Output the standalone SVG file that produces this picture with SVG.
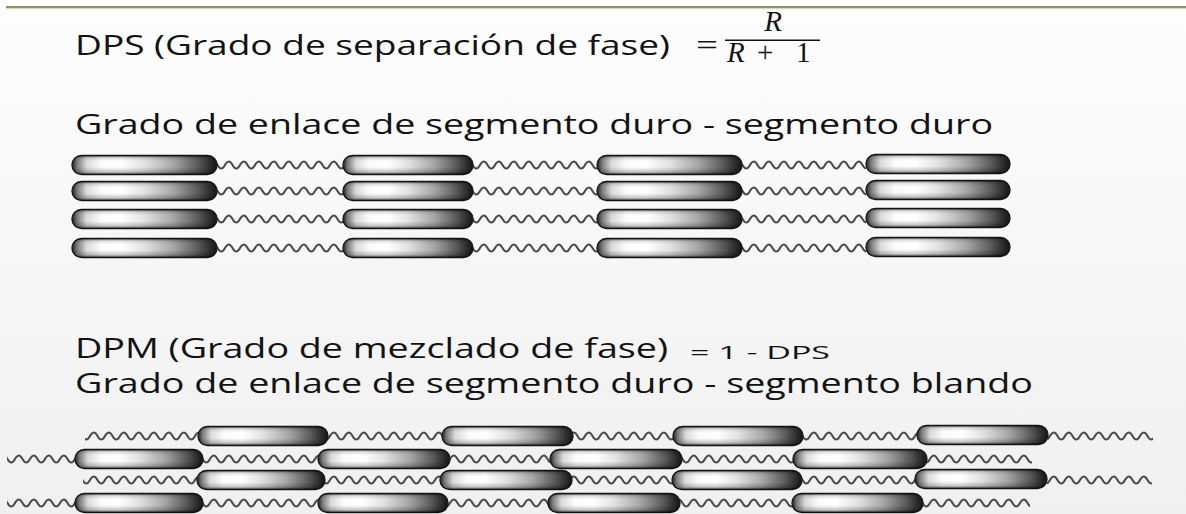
<svg xmlns="http://www.w3.org/2000/svg" width="1186" height="514" viewBox="0 0 1186 514">
  <defs>
    <style>
      .t { font-family: "Open Sans", "DejaVu Sans", sans-serif; font-size: 28px; fill: #121212; }
      .m { font-family: "Liberation Serif", "DejaVu Serif", serif; font-size: 29px; fill: #121212; }
      .i { font-style: italic; }
      .s { font-family: "Open Sans", "Liberation Sans", sans-serif; font-size: 19px; fill: #121212; }
      .body { fill: url(#capH); stroke: #1a1a1a; stroke-width: 1.4; }
      .shade { fill: url(#capV); stroke: none; }
      .chain { fill: url(#wave); stroke: none; }
    </style>
    <linearGradient id="bg" x1="0" y1="0" x2="0" y2="1">
      <stop offset="0" stop-color="#fdfdfd"/>
      <stop offset="1" stop-color="#f0f0f0"/>
    </linearGradient>
    <!-- hard segment: bright highlight left of centre, darkening to the right -->
    <linearGradient id="capH" x1="0" y1="0" x2="1" y2="0">
      <stop offset="0" stop-color="#1e1e1e"/>
      <stop offset="0.035" stop-color="#7a7a7a"/>
      <stop offset="0.1" stop-color="#dadada"/>
      <stop offset="0.2" stop-color="#fbfbfb"/>
      <stop offset="0.34" stop-color="#ffffff"/>
      <stop offset="0.5" stop-color="#e2e2e2"/>
      <stop offset="0.7" stop-color="#a6a6a6"/>
      <stop offset="0.87" stop-color="#5a5a5a"/>
      <stop offset="1" stop-color="#141414"/>
    </linearGradient>
    <!-- cylinder shading across the segment's height -->
    <linearGradient id="capV" x1="0" y1="0" x2="0" y2="1">
      <stop offset="0" stop-color="#000" stop-opacity="0.6"/>
      <stop offset="0.13" stop-color="#000" stop-opacity="0.12"/>
      <stop offset="0.3" stop-color="#000" stop-opacity="0"/>
      <stop offset="0.62" stop-color="#000" stop-opacity="0"/>
      <stop offset="0.86" stop-color="#000" stop-opacity="0.22"/>
      <stop offset="1" stop-color="#000" stop-opacity="0.65"/>
    </linearGradient>
    <!-- soft segment: repeating sine-like chain, tile centred on y=0 -->
    <pattern id="wave" patternUnits="userSpaceOnUse" x="0" y="-7" width="15" height="14">
      <path d="M-7.5 7 Q-3.75 14 0 7 T7.5 7 T15 7 T22.5 7" fill="none" stroke="#4a4a4a" stroke-width="2"/>
    </pattern>
  </defs>

  <rect width="1186" height="514" fill="url(#bg)"/>
  <rect x="6" y="6" width="1180" height="2.2" fill="#989060"/>
  <rect x="6" y="8.2" width="1180" height="1" fill="#d8d4c0"/>

  <!-- headings and formulas -->
  <g id="labels">
    <text class="t" x="75" y="55" textLength="595" lengthAdjust="spacingAndGlyphs">DPS (Grado de separación de fase)</text>
    <text class="m" x="696" y="55" textLength="22" lengthAdjust="spacingAndGlyphs">=</text>
    <text class="m i" x="773" y="31" text-anchor="middle">R</text>
    <rect x="725" y="39.5" width="95" height="1.5" fill="#121212"/>
    <text class="m" y="62"><tspan class="i" x="727">R</tspan><tspan x="757">+</tspan><tspan x="796">1</tspan></text>
    <text class="t" x="75" y="134" textLength="918" lengthAdjust="spacingAndGlyphs">Grado de enlace de segmento duro - segmento duro</text>
    <text class="t" x="75" y="358" textLength="593" lengthAdjust="spacingAndGlyphs">DPM (Grado de mezclado de fase)</text>
    <text class="s" x="690" y="359" textLength="140" lengthAdjust="spacingAndGlyphs">= 1 - DPS</text>
    <text class="t" x="75" y="393" textLength="958" lengthAdjust="spacingAndGlyphs">Grado de enlace de segmento duro - segmento blando</text>
  </g>

  <!-- soft-segment chains (connectors) -->
  <g id="connectors">
    <!-- phase-separated block -->
    <g transform="translate(0,165)">
      <rect class="chain" x="217" y="-7" width="126" height="14"/>
      <rect class="chain" x="473" y="-7" width="124" height="14"/>
      <rect class="chain" x="742" y="-7" width="124" height="14"/>
    </g>
    <g transform="translate(0,191)">
      <rect class="chain" x="217" y="-7" width="126" height="14"/>
      <rect class="chain" x="473" y="-7" width="124" height="14"/>
      <rect class="chain" x="742" y="-7" width="124" height="14"/>
    </g>
    <g transform="translate(0,219)">
      <rect class="chain" x="217" y="-7" width="126" height="14"/>
      <rect class="chain" x="473" y="-7" width="124" height="14"/>
      <rect class="chain" x="742" y="-7" width="124" height="14"/>
    </g>
    <g transform="translate(0,248)">
      <rect class="chain" x="217" y="-7" width="126" height="14"/>
      <rect class="chain" x="473" y="-7" width="124" height="14"/>
      <rect class="chain" x="742" y="-7" width="124" height="14"/>
    </g>
    <!-- phase-mixed block -->
    <g transform="translate(0,436)">
      <rect class="chain" x="85" y="-7" width="113" height="14"/>
      <rect class="chain" x="328" y="-7" width="114" height="14"/>
      <rect class="chain" x="573" y="-7" width="100" height="14"/>
      <rect class="chain" x="803" y="-7" width="114" height="14"/>
      <rect class="chain" x="1048" y="-7" width="105" height="14"/>
    </g>
    <g transform="translate(0,459)">
      <rect class="chain" x="7" y="-7" width="68" height="14"/>
      <rect class="chain" x="203" y="-7" width="115" height="14"/>
      <rect class="chain" x="450" y="-7" width="100" height="14"/>
      <rect class="chain" x="682" y="-7" width="111" height="14"/>
      <rect class="chain" x="927" y="-7" width="105" height="14"/>
    </g>
    <g transform="translate(0,480)">
      <rect class="chain" x="83" y="-7" width="114" height="14"/>
      <rect class="chain" x="325" y="-7" width="115" height="14"/>
      <rect class="chain" x="572" y="-7" width="100" height="14"/>
      <rect class="chain" x="802" y="-7" width="113" height="14"/>
      <rect class="chain" x="1047" y="-7" width="105" height="14"/>
    </g>
    <g transform="translate(0,503)">
      <rect class="chain" x="7" y="-7" width="68" height="14"/>
      <rect class="chain" x="203" y="-7" width="115" height="14"/>
      <rect class="chain" x="448" y="-7" width="100" height="14"/>
      <rect class="chain" x="680" y="-7" width="112" height="14"/>
      <rect class="chain" x="923" y="-7" width="107" height="14"/>
    </g>
  </g>

  <!-- hard segments (nodes) -->
  <g id="hard-segments-separated">
    <g id="hs-1-1"><rect class="body" x="72" y="155.5" width="145" height="19" rx="9.5"/><rect class="shade" x="72" y="155.5" width="145" height="19" rx="9.5"/></g>
    <g id="hs-1-2"><rect class="body" x="343" y="155.5" width="130" height="19" rx="9.5"/><rect class="shade" x="343" y="155.5" width="130" height="19" rx="9.5"/></g>
    <g id="hs-1-3"><rect class="body" x="597" y="155.5" width="145" height="19" rx="9.5"/><rect class="shade" x="597" y="155.5" width="145" height="19" rx="9.5"/></g>
    <g id="hs-1-4"><rect class="body" x="866" y="154.5" width="144" height="19" rx="9.5"/><rect class="shade" x="866" y="154.5" width="144" height="19" rx="9.5"/></g>

    <g id="hs-2-1"><rect class="body" x="72" y="181.5" width="145" height="19" rx="9.5"/><rect class="shade" x="72" y="181.5" width="145" height="19" rx="9.5"/></g>
    <g id="hs-2-2"><rect class="body" x="343" y="181.5" width="130" height="19" rx="9.5"/><rect class="shade" x="343" y="181.5" width="130" height="19" rx="9.5"/></g>
    <g id="hs-2-3"><rect class="body" x="597" y="181.5" width="145" height="19" rx="9.5"/><rect class="shade" x="597" y="181.5" width="145" height="19" rx="9.5"/></g>
    <g id="hs-2-4"><rect class="body" x="866" y="180.5" width="144" height="19" rx="9.5"/><rect class="shade" x="866" y="180.5" width="144" height="19" rx="9.5"/></g>

    <g id="hs-3-1"><rect class="body" x="72" y="209.5" width="145" height="19" rx="9.5"/><rect class="shade" x="72" y="209.5" width="145" height="19" rx="9.5"/></g>
    <g id="hs-3-2"><rect class="body" x="343" y="209.5" width="130" height="19" rx="9.5"/><rect class="shade" x="343" y="209.5" width="130" height="19" rx="9.5"/></g>
    <g id="hs-3-3"><rect class="body" x="597" y="209.5" width="145" height="19" rx="9.5"/><rect class="shade" x="597" y="209.5" width="145" height="19" rx="9.5"/></g>
    <g id="hs-3-4"><rect class="body" x="866" y="208.5" width="144" height="19" rx="9.5"/><rect class="shade" x="866" y="208.5" width="144" height="19" rx="9.5"/></g>

    <g id="hs-4-1"><rect class="body" x="72" y="238.5" width="145" height="19" rx="9.5"/><rect class="shade" x="72" y="238.5" width="145" height="19" rx="9.5"/></g>
    <g id="hs-4-2"><rect class="body" x="343" y="238.5" width="130" height="19" rx="9.5"/><rect class="shade" x="343" y="238.5" width="130" height="19" rx="9.5"/></g>
    <g id="hs-4-3"><rect class="body" x="597" y="238.5" width="145" height="19" rx="9.5"/><rect class="shade" x="597" y="238.5" width="145" height="19" rx="9.5"/></g>
    <g id="hs-4-4"><rect class="body" x="866" y="237.5" width="144" height="19" rx="9.5"/><rect class="shade" x="866" y="237.5" width="144" height="19" rx="9.5"/></g>
  </g>

  <g id="hard-segments-mixed">
    <g id="hm-1-1"><rect class="body" x="198" y="426.5" width="130" height="19" rx="9.5"/><rect class="shade" x="198" y="426.5" width="130" height="19" rx="9.5"/></g>
    <g id="hm-1-2"><rect class="body" x="442" y="426.5" width="131" height="19" rx="9.5"/><rect class="shade" x="442" y="426.5" width="131" height="19" rx="9.5"/></g>
    <g id="hm-1-3"><rect class="body" x="673" y="426.5" width="130" height="19" rx="9.5"/><rect class="shade" x="673" y="426.5" width="130" height="19" rx="9.5"/></g>
    <g id="hm-1-4"><rect class="body" x="917" y="425.5" width="131" height="19" rx="9.5"/><rect class="shade" x="917" y="425.5" width="131" height="19" rx="9.5"/></g>

    <g id="hm-2-1"><rect class="body" x="75" y="449.5" width="128" height="19" rx="9.5"/><rect class="shade" x="75" y="449.5" width="128" height="19" rx="9.5"/></g>
    <g id="hm-2-2"><rect class="body" x="318" y="449.5" width="132" height="19" rx="9.5"/><rect class="shade" x="318" y="449.5" width="132" height="19" rx="9.5"/></g>
    <g id="hm-2-3"><rect class="body" x="550" y="449.5" width="132" height="19" rx="9.5"/><rect class="shade" x="550" y="449.5" width="132" height="19" rx="9.5"/></g>
    <g id="hm-2-4"><rect class="body" x="793" y="449.5" width="134" height="19" rx="9.5"/><rect class="shade" x="793" y="449.5" width="134" height="19" rx="9.5"/></g>

    <g id="hm-3-1"><rect class="body" x="197" y="470.5" width="128" height="19" rx="9.5"/><rect class="shade" x="197" y="470.5" width="128" height="19" rx="9.5"/></g>
    <g id="hm-3-2"><rect class="body" x="440" y="470.5" width="132" height="19" rx="9.5"/><rect class="shade" x="440" y="470.5" width="132" height="19" rx="9.5"/></g>
    <g id="hm-3-3"><rect class="body" x="672" y="470.5" width="130" height="19" rx="9.5"/><rect class="shade" x="672" y="470.5" width="130" height="19" rx="9.5"/></g>
    <g id="hm-3-4"><rect class="body" x="915" y="469.5" width="132" height="19" rx="9.5"/><rect class="shade" x="915" y="469.5" width="132" height="19" rx="9.5"/></g>

    <g id="hm-4-1"><rect class="body" x="75" y="493.5" width="128" height="19" rx="9.5"/><rect class="shade" x="75" y="493.5" width="128" height="19" rx="9.5"/></g>
    <g id="hm-4-2"><rect class="body" x="318" y="493.5" width="130" height="19" rx="9.5"/><rect class="shade" x="318" y="493.5" width="130" height="19" rx="9.5"/></g>
    <g id="hm-4-3"><rect class="body" x="548" y="493.5" width="132" height="19" rx="9.5"/><rect class="shade" x="548" y="493.5" width="132" height="19" rx="9.5"/></g>
    <g id="hm-4-4"><rect class="body" x="792" y="493.5" width="131" height="19" rx="9.5"/><rect class="shade" x="792" y="493.5" width="131" height="19" rx="9.5"/></g>
  </g>
</svg>
